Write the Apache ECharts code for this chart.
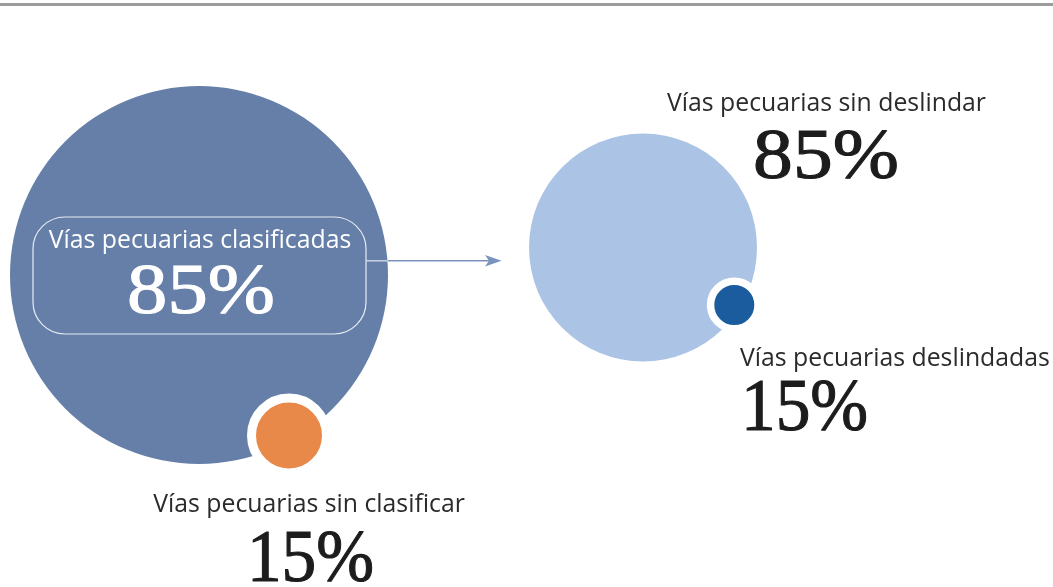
<!DOCTYPE html>
<html>
<head>
<meta charset="utf-8">
<script src="https://cdn.jsdelivr.net/npm/echarts@6/dist/echarts.min.js"></script>
<style>
  html, body { margin: 0; padding: 0; background: #ffffff; }
  #chart { width: 1053px; height: 587px; }
</style>
</head>
<body>
<div id="chart"></div>
<script>
// Share of livestock routes by legal status
const categories = [
  'Vías pecuarias clasificadas',
  'Vías pecuarias sin clasificar',
  'Vías pecuarias sin deslindar',
  'Vías pecuarias deslindadas'
];
const shares = [85, 15, 85, 15];

// Bubble placement (pixel space of the hidden axes) and look
const bubbleLayout = [
  { x: 199, y: 275, size: 378, color: '#667fa8', border: 0 },
  { x: 289, y: 435.5, size: 75, color: '#e8894a', border: 9 },
  { x: 643, y: 247.5, size: 228, color: '#abc4e6', border: 0 },
  { x: 734.3, y: 305, size: 47.5, color: '#1a5c9e', border: 7.5 }
];

const W = 1053, H = 587;
const SANS = '"Open Sans", Lato, sans-serif';
const SERIF = '"Liberation Serif", "DejaVu Serif", serif';

const pct = v => v + '%';

function caption(i, x, y, align, color) {
  return {
    type: 'text', x: x, y: y, z: 20,
    style: { text: categories[i], fill: color, font: '24.8px ' + SANS, align: align, verticalAlign: 'middle' }
  };
}
function figure(i, x, y, align, color, size, sx) {
  return {
    type: 'text', x: x, y: y, z: 20, scaleX: sx,
    style: {
      text: pct(shares[i]), fill: color, stroke: color, lineWidth: 1.1,
      font: size + 'px ' + SERIF, align: align, verticalAlign: 'middle'
    }
  };
}

const chart = echarts.init(document.getElementById('chart'), null, { renderer: 'canvas' });

chart.setOption({
  animation: false,
  backgroundColor: '#ffffff',
  grid: { left: 0, right: 0, top: 0, bottom: 0, containLabel: false },
  xAxis: { type: 'value', min: 0, max: W, show: false },
  yAxis: { type: 'value', min: 0, max: H, inverse: true, show: false },
  series: [{
    type: 'scatter',
    silent: true,
    symbol: 'circle',
    data: categories.map((name, i) => ({
      name: name,
      value: [bubbleLayout[i].x, bubbleLayout[i].y, shares[i]],
      symbolSize: bubbleLayout[i].size,
      itemStyle: {
        color: bubbleLayout[i].color,
        borderColor: '#ffffff',
        borderWidth: bubbleLayout[i].border,
        opacity: 1
      }
    }))
  }],
  graphic: [
    // rule across the top
    { type: 'line', shape: { x1: 0, y1: 4.5, x2: W, y2: 4.5 },
      style: { stroke: '#9c9c9c', lineWidth: 3 }, z: 10 },
    // frame around the main label
    { type: 'rect', shape: { x: 33, y: 217, width: 333, height: 117, r: 32 },
      style: { fill: 'none', stroke: '#e6ebf3', lineWidth: 1.2 }, z: 10 },
    // connector arrow
    { type: 'line', shape: { x1: 366, y1: 260.8, x2: 388, y2: 260.8 },
      style: { stroke: '#c9d3e6', lineWidth: 1.5 }, z: 10 },
    { type: 'line', shape: { x1: 388, y1: 260.8, x2: 489, y2: 260.8 },
      style: { stroke: '#7a93bd', lineWidth: 1.5 }, z: 10 },
    { type: 'polygon', shape: { points: [[501.5, 260.8], [485, 255], [489, 260.8], [485, 266.6]] },
      style: { fill: '#7a93bd' }, z: 10 },

    // captions and figures
    caption(0, 200, 241, 'center', '#ffffff'),
    figure(0, 201, 294, 'center', '#ffffff', 72, 1.12),

    caption(1, 309, 505, 'center', '#2b2b2b'),
    figure(1, 310.5, 562, 'center', '#1c1c1c', 73, 0.95),

    caption(2, 826.5, 104, 'center', '#2b2b2b'),
    figure(2, 826, 159, 'center', '#1c1c1c', 71, 1.12),

    caption(3, 740, 359, 'left', '#2b2b2b'),
    figure(3, 741, 411, 'left', '#1c1c1c', 73, 0.95)
  ]
});
</script>
</body>
</html>
